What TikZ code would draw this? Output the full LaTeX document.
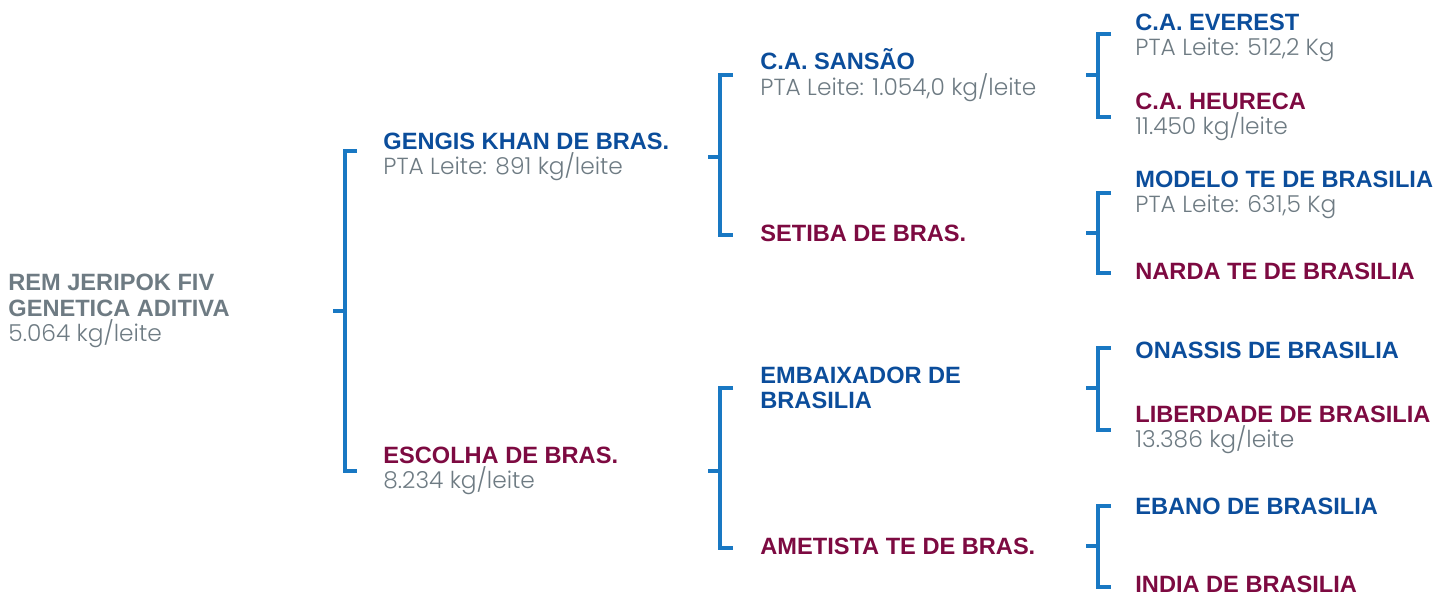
\documentclass[tikz,border=0pt]{standalone}
\usepackage{fontspec}
\setmainfont{Liberation Sans}
\newfontfamily\valfont{Poppins Light}

\definecolor{sireblue}{HTML}{0B4D9B}
\definecolor{damred}{HTML}{7D0A41}
\definecolor{pedgray}{HTML}{6E7B83}
\definecolor{linkblue}{HTML}{1978C3}

\newcommand{\sire}[1]{{\bfseries\color{sireblue}#1}}
\newcommand{\dam}[1]{{\bfseries\color{damred}#1}}
\newcommand{\val}[1]{{\valfont\fontsize{11.65}{12.8}\selectfont\color{pedgray}#1}}

\tikzset{
  entry/.style={anchor=west, inner sep=0pt, align=left,
    font=\fontsize{11.8}{12.7}\selectfont},
  bracket/.style={draw=linkblue, line width=1.6pt},
}

\begin{document}
\begin{tikzpicture}[x=0.5pt, y=-0.5pt]
\useasboundingbox (0,0) rectangle (1433,597);

% animal
\node[entry] (root) at (8,311) {{\bfseries\color{pedgray}REM JERIPOK FIV}\\
  {\bfseries\color{pedgray}GENETICA ADITIVA}\\ \val{5.064 kg/leite}};

% parents
\node[entry] (gengis) at (383,157) {\sire{GENGIS KHAN DE BRAS.}\\ \val{PTA Leite: 891 kg/leite}};
\node[entry] (escolha) at (383,471) {\dam{ESCOLHA DE BRAS.}\\ \val{8.234 kg/leite}};

% grandparents
\node[entry] (sansao) at (760,75) {\sire{C.A. SANSÃO}\\ \val{PTA Leite: 1.054,0 kg/leite}};
\node[entry] (setiba) at (760,233) {\dam{SETIBA DE BRAS.}};
\node[entry] (embaixador) at (760,388) {\sire{EMBAIXADOR DE}\\ \sire{BRASILIA}};
\node[entry] (ametista) at (760,546) {\dam{AMETISTA TE DE BRAS.}};

% great-grandparents
\node[entry] (everest) at (1135,38) {\sire{C.A. EVEREST}\\ \val{PTA Leite: 512,2 Kg}};
\node[entry] (heureca) at (1135,117) {\dam{C.A. HEURECA}\\ \val{11.450 kg/leite}};
\node[entry] (modelo) at (1135,195) {\sire{MODELO TE DE BRASILIA}\\ \val{PTA Leite: 631,5 Kg}};
\node[entry] (narda) at (1135,271) {\dam{NARDA TE DE BRASILIA}};
\node[entry] (onassis) at (1135,350) {\sire{ONASSIS DE BRASILIA}};
\node[entry] (liberdade) at (1135,430) {\dam{LIBERDADE DE BRASILIA}\\ \val{13.386 kg/leite}};
\node[entry] (ebano) at (1135,506) {\sire{EBANO DE BRASILIA}};
\node[entry] (india) at (1135,584) {\dam{INDIA DE BRASILIA}};

% brackets
\draw[bracket] ([xshift=-13pt,yshift=3pt]gengis.west) -- ++(-12,0) coordinate (v1) |- ([xshift=-13pt]escolha.west);
\draw[bracket] (v1 |- root) -- ++(-12,0);

\draw[bracket] ([xshift=-13.5pt]sansao.west) -- ++(-13,0) coordinate (v2) |- ([xshift=-13.5pt,yshift=-1pt]setiba.west);
\draw[bracket] (v2 |- gengis) -- ++(-12,0);
\draw[bracket] ([xshift=-13.5pt]embaixador.west) -- ++(-13,0) coordinate (v3) |- ([xshift=-13.5pt,yshift=-1pt]ametista.west);
\draw[bracket] (v3 |- escolha) -- ++(-12,0);

\draw[bracket] ([xshift=-12pt,yshift=2pt]everest.west) -- ++(-13,0) coordinate (v4) |- ([xshift=-12pt]heureca.west);
\draw[bracket] (v4 |- sansao) -- ++(-12,0);
\draw[bracket] ([xshift=-12pt,yshift=1pt]modelo.west) -- ++(-13,0) coordinate (v5) |- ([xshift=-12pt,yshift=-1pt]narda.west);
\draw[bracket] (v5 |- setiba) -- ++(-12,0);
\draw[bracket] ([xshift=-12pt,yshift=1pt]onassis.west) -- ++(-13,0) coordinate (v6) |- ([xshift=-12pt]liberdade.west);
\draw[bracket] (v6 |- embaixador) -- ++(-12,0);
\draw[bracket] ([xshift=-12pt]ebano.west) -- ++(-13,0) coordinate (v7) |- ([xshift=-12pt,yshift=-1.5pt]india.west);
\draw[bracket] (v7 |- ametista) -- ++(-12,0);
\end{tikzpicture}
\end{document}
